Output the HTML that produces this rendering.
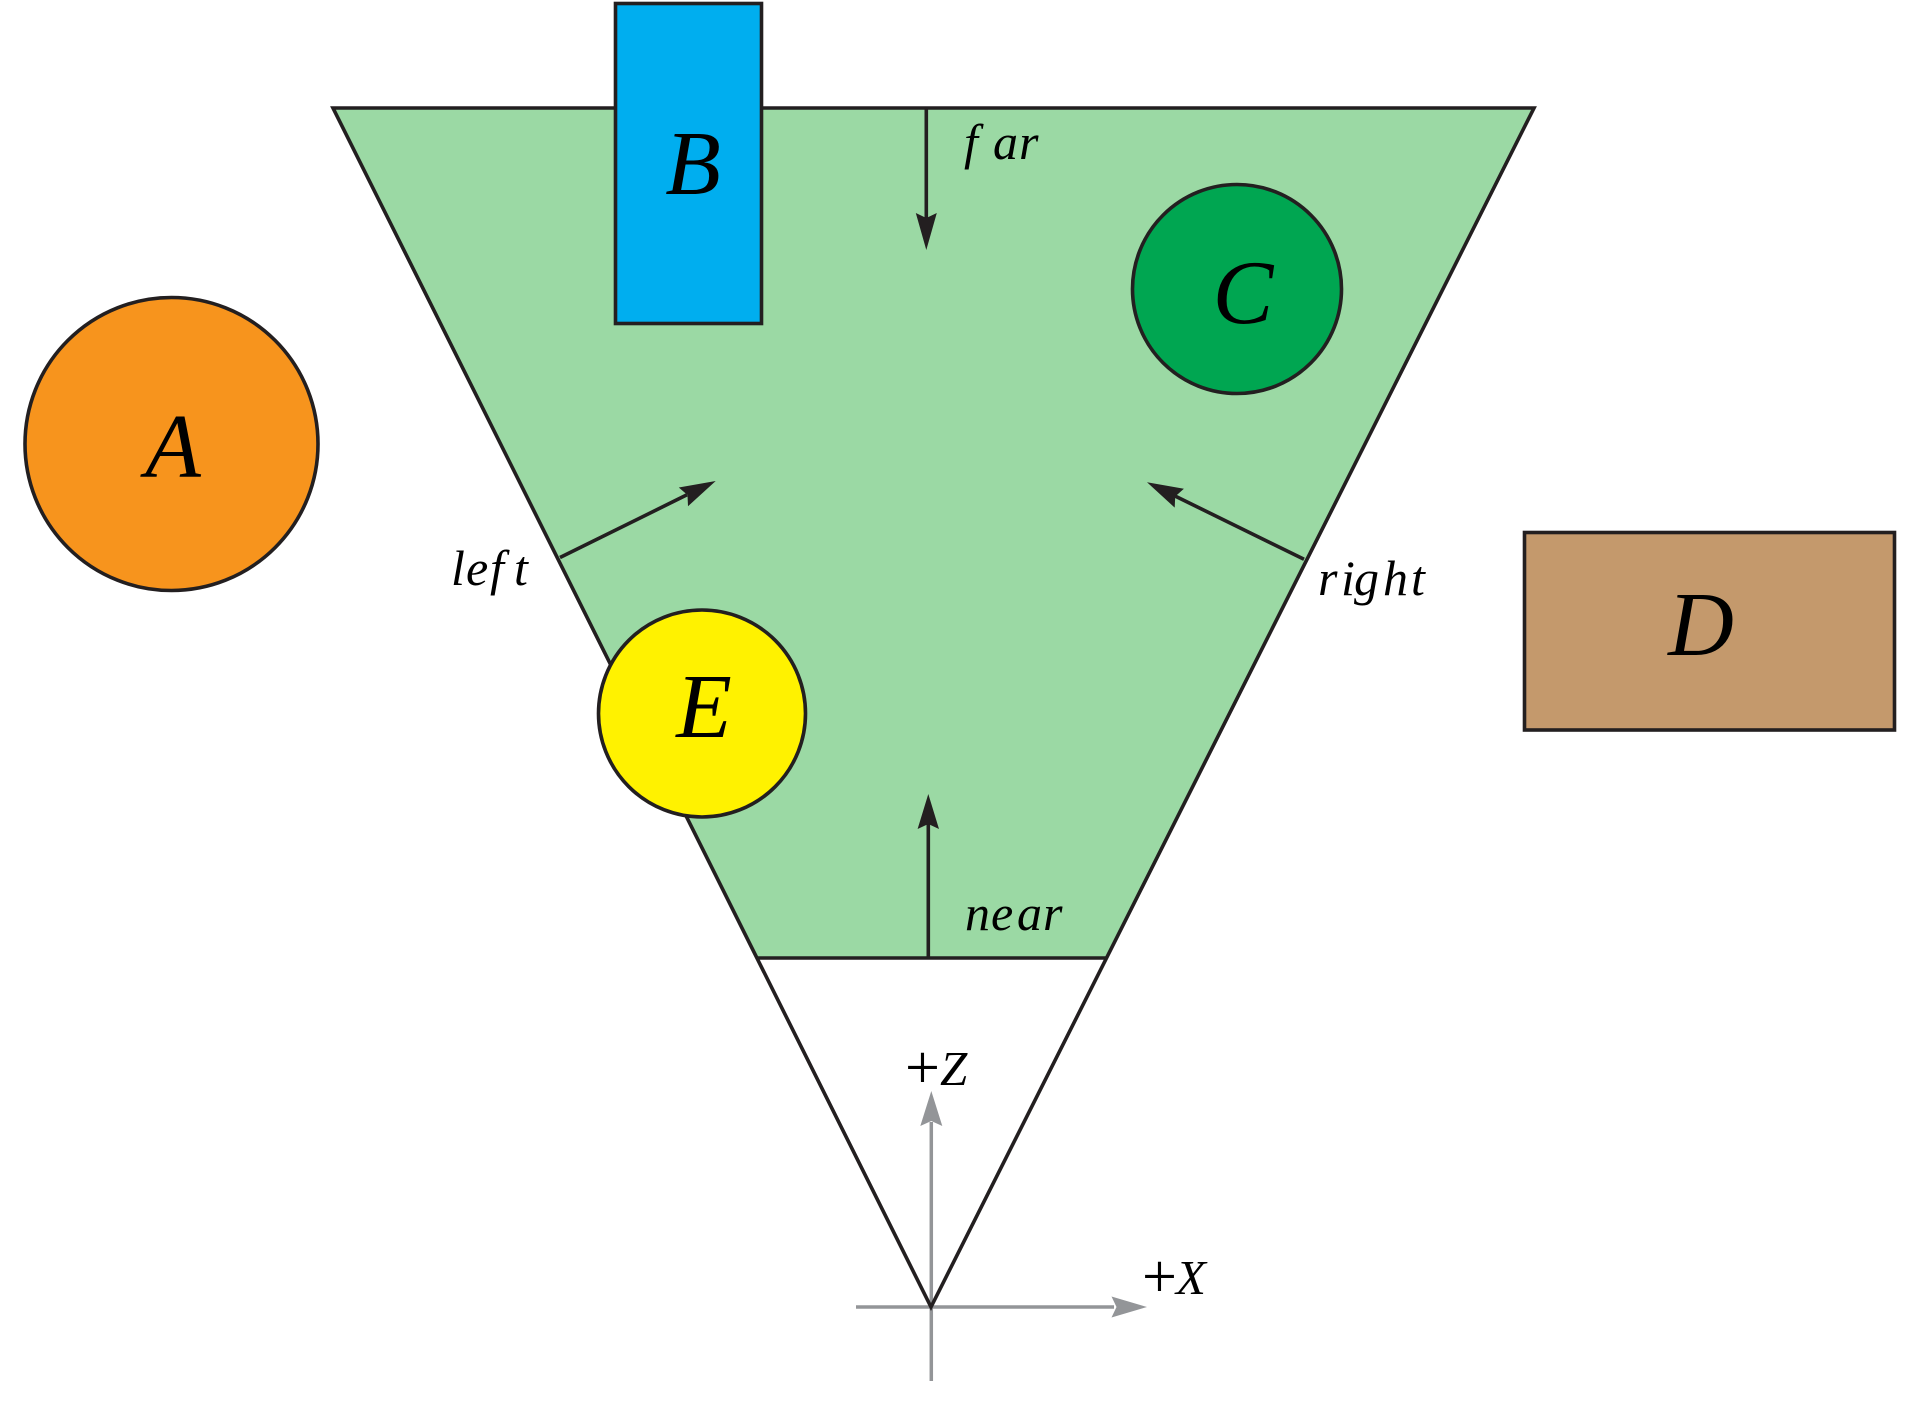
<!DOCTYPE html>
<html>
<head>
<meta charset="utf-8">
<style>
  html, body { margin: 0; padding: 0; background: #ffffff; }
  svg { display: block; }
  .lbl { font-family: "Liberation Serif", serif; font-style: italic; fill: #000; }
</style>
</head>
<body>
<svg width="1920" height="1417" viewBox="0 0 1920 1417" xmlns="http://www.w3.org/2000/svg">
  <rect x="0" y="0" width="1920" height="1417" fill="#ffffff"/>

  <!-- axes (gray) -->
  <g stroke="#939598" stroke-width="3.5" fill="none">
    <line x1="931.3" y1="1381" x2="931.3" y2="1122"/>
    <line x1="856" y1="1307" x2="1114" y2="1307"/>
  </g>
  <polygon points="931.3,1091 920.3,1126 931.3,1121 942.3,1126" fill="#939598"/>
  <polygon points="1147,1307 1111.5,1296.5 1116.5,1307 1111.5,1317.5" fill="#939598"/>

  <!-- frustum fill -->
  <polygon points="333,108 1534,108 1106,958 758,958" fill="#9bd9a4"/>

  <!-- frustum outline -->
  <polygon points="333,108 1534,108 931,1307" fill="none" stroke="#231f20" stroke-width="3.6" stroke-linejoin="miter" stroke-miterlimit="20"/>
  <line x1="758" y1="958" x2="1106" y2="958" stroke="#231f20" stroke-width="3.6"/>

  <!-- plane normal arrows -->
  <g stroke="#231f20" stroke-width="3.6" fill="none">
    <line x1="926.3" y1="108" x2="926.3" y2="218"/>
    <line x1="928.3" y1="958" x2="928.3" y2="824"/>
    <line x1="560" y1="557.5" x2="687" y2="494.8"/>
    <line x1="1304" y1="559.3" x2="1175" y2="496"/>
  </g>
  <g fill="#231f20">
    <polygon points="926.3,250 915.8,213 926.3,218 936.8,213"/>
    <polygon points="928.3,794 917.6,829 928.3,824 939,829"/>
    <polygon points="715.7,481 678.8,487.5 687.5,495 688,506.3"/>
    <polygon points="1147,482.3 1183.9,488.8 1175.2,496.5 1174.7,507.6"/>
  </g>

  <!-- B -->
  <rect x="615.5" y="3.5" width="146" height="320" fill="#00aeef" stroke="#231f20" stroke-width="3.6"/>
  <!-- C -->
  <circle cx="1237" cy="289" r="104.5" fill="#00a651" stroke="#231f20" stroke-width="3.6"/>
  <!-- E -->
  <circle cx="702" cy="713.5" r="103.5" fill="#fff200" stroke="#231f20" stroke-width="3.6"/>
  <!-- A -->
  <circle cx="171.5" cy="444" r="146.5" fill="#f7941d" stroke="#231f20" stroke-width="3.6"/>
  <!-- D -->
  <rect x="1524.5" y="532.5" width="370" height="197.5" fill="#c4996c" stroke="#231f20" stroke-width="3.6"/>

  <!-- big letters -->
  <g class="lbl" font-size="91" text-anchor="middle">
    <text x="173" y="477">A</text>
    <text x="693" y="194">B</text>
    <text x="1243" y="323">C</text>
    <text x="1701" y="655">D</text>
    <text x="704" y="737">E</text>
  </g>

  <!-- plane labels -->
  <g class="lbl" font-size="50">
    <text x="964 993 1019" y="159">far</text>
    <text x="451 466 490 514" y="585">left</text>
    <text x="1318 1341 1354 1383 1411" y="595">right</text>
    <text x="965 991 1017 1043" y="930">near</text>
  </g>

  <!-- axis labels -->
  <text font-family="Liberation Serif, serif" font-size="62" x="905" y="1088" fill="#000">+</text>
  <text class="lbl" font-size="49" x="940" y="1085">Z</text>
  <text font-family="Liberation Serif, serif" font-size="62" x="1142" y="1297" fill="#000">+</text>
  <text class="lbl" font-size="49" x="1176" y="1294">X</text>
</svg>
</body>
</html>
